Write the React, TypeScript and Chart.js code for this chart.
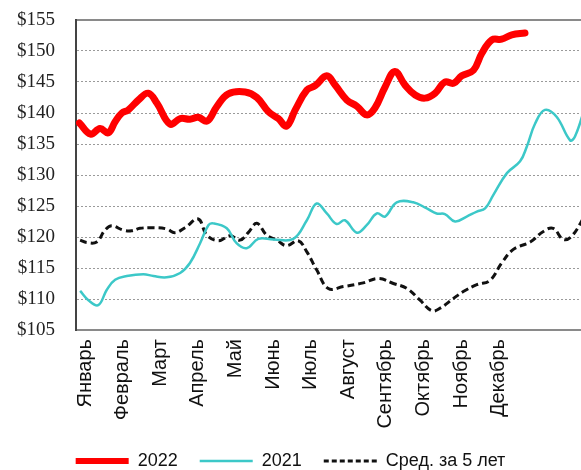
import React, { useEffect, useRef } from "react";
import { Chart, registerables } from "chart.js";

Chart.register(...registerables);

const months = ["Январь", "Февраль", "Март", "Апрель", "Май", "Июнь", "Июль", "Август", "Сентябрь", "Октябрь", "Ноябрь", "Декабрь"];
const yTicks = [105, 110, 115, 120, 125, 130, 135, 140, 145, 150, 155];

// x in month units (0 = Январь)
const x2022 = [-0.15, 0.15, 0.4, 0.62, 0.8, 0.98, 1.15, 1.42, 1.68, 1.91, 2.26, 2.53, 2.79, 3.01, 3.25, 3.5, 3.81, 4.26, 4.57, 4.88, 5.14, 5.36, 5.59, 5.9, 6.12, 6.43, 6.65, 6.96, 7.23, 7.49, 7.71, 7.98, 8.24, 8.51, 8.78, 9.04, 9.31, 9.57, 9.8, 10.02, 10.33, 10.55, 10.82, 11.08, 11.35, 11.7];
const y2022 = [138.4, 136.6, 137.5, 136.8, 138.6, 140.0, 140.5, 142.1, 143.2, 141.6, 138.2, 139.1, 139.0, 139.3, 138.7, 141.0, 143.1, 143.4, 142.5, 140.2, 139.1, 137.9, 140.5, 143.7, 144.4, 146.0, 144.5, 142.1, 141.1, 139.7, 140.8, 144.2, 146.7, 144.5, 142.9, 142.4, 143.2, 145.0, 144.8, 146.0, 146.9, 149.6, 151.8, 151.9, 152.6, 152.9];

const x2021 = [-0.13, 0.09, 0.35, 0.58, 0.8, 1.11, 1.55, 1.82, 2.17, 2.53, 2.79, 3.06, 3.28, 3.41, 3.77, 4.03, 4.3, 4.61, 5.01, 5.54, 5.9, 6.16, 6.43, 6.69, 6.91, 7.23, 7.49, 7.76, 7.98, 8.29, 8.73, 9.09, 9.35, 9.57, 9.84, 10.15, 10.42, 10.64, 10.86, 11.22, 11.57, 11.75, 11.97, 12.23, 12.54, 12.9, 13.03, 13.3];
const y2021 = [111.3, 109.8, 109.0, 111.5, 113.1, 113.7, 114.0, 113.7, 113.5, 114.2, 115.8, 119.0, 121.9, 122.2, 121.4, 119.0, 118.2, 119.7, 119.6, 119.7, 122.7, 125.4, 123.8, 122.1, 122.7, 120.7, 121.9, 123.8, 123.3, 125.6, 125.6, 124.6, 123.8, 123.7, 122.5, 123.3, 124.1, 124.6, 126.8, 130.3, 132.2, 134.6, 138.3, 140.5, 139.4, 135.6, 136.2, 141.0];

const xAvg = [-0.13, 0.05, 0.31, 0.53, 0.71, 1.02, 1.24, 1.46, 1.82, 2.17, 2.39, 2.66, 3.01, 3.24, 3.55, 3.86, 4.12, 4.34, 4.57, 4.83, 5.1, 5.36, 5.67, 5.9, 6.16, 6.47, 6.87, 7.4, 7.8, 8.2, 8.56, 8.91, 9.22, 9.44, 9.8, 10.06, 10.42, 10.77, 11.08, 11.39, 11.84, 12.19, 12.45, 12.72, 12.94, 13.3];
const yAvg = [119.5, 119.1, 119.2, 121.1, 121.8, 121.1, 121.0, 121.4, 121.5, 121.3, 120.7, 121.5, 122.9, 120.3, 119.4, 120.2, 119.5, 120.7, 122.2, 120.3, 119.5, 118.6, 119.4, 117.6, 114.7, 111.7, 112.0, 112.6, 113.3, 112.5, 111.7, 109.8, 108.1, 108.5, 110.1, 111.2, 112.3, 113.0, 115.8, 118.0, 119.2, 120.9, 121.4, 119.6, 120.1, 123.5];

const seriesNames = ["2022", "2021", "Сред. за 5 лет"];

const toPts = (xs: number[], ys: number[]) => xs.map((x, i) => ({ x, y: ys[i] }));

export default function App() {
  const ref = useRef<HTMLCanvasElement | null>(null);
  useEffect(() => {
    if (!ref.current) return;
    const chart = new Chart(ref.current, {
      type: "line",
      data: {
        datasets: [
          {
            label: seriesNames[0],
            data: toPts(x2022, y2022),
            borderColor: "#FF0000",
            backgroundColor: "#FF0000",
            borderWidth: 7,
            pointRadius: 0,
            tension: 0.4,
            borderCapStyle: "round",
            borderJoinStyle: "round",
          },
          {
            label: seriesNames[1],
            data: toPts(x2021, y2021),
            borderColor: "#3CC8C8",
            backgroundColor: "#3CC8C8",
            borderWidth: 2.5,
            pointRadius: 0,
            tension: 0.4,
          },
          {
            label: seriesNames[2],
            data: toPts(xAvg, yAvg),
            borderColor: "#111111",
            backgroundColor: "#111111",
            borderWidth: 3,
            borderDash: [7, 4],
            pointRadius: 0,
            tension: 0.4,
          },
        ],
      },
      options: {
        animation: false,
        responsive: false,
        maintainAspectRatio: false,
        layout: { padding: { top: 20, left: 0, right: 0, bottom: 0 } },
        plugins: {
          tooltip: { enabled: false },
          legend: {
            position: "bottom",
            labels: {
              usePointStyle: true,
              pointStyle: "line",
              pointStyleWidth: 53,
              padding: 22,
              color: "#111",
              font: { family: "'Liberation Sans', Arial, sans-serif", size: 18 },
              generateLabels: (ch: any) =>
                ch.data.datasets.map((ds: any, i: number) => ({
                  text: ds.label,
                  fillStyle: ds.borderColor,
                  strokeStyle: ds.borderColor,
                  lineWidth: i === 0 ? 6 : i === 1 ? 2.5 : 3,
                  lineDash: i === 2 ? [5, 3] : [],
                  pointStyle: "line",
                  hidden: false,
                  datasetIndex: i,
                  fontColor: "#111",
                })),
            },
          },
        },
        scales: {
          x: {
            type: "linear",
            min: -0.24,
            max: 13.19,
            afterBuildTicks: (scale: any) => {
              scale.ticks = months.map((_, i) => ({ value: i }));
            },
            afterFit: (scale: any) => {
              scale.height = 100;
            },
            grid: { display: false, drawTicks: false },
            border: { display: true, color: "#8a8a8a", width: 2 },
            ticks: {
              autoSkip: false,
              minRotation: 90,
              maxRotation: 90,
              padding: 9,
              color: "#111",
              font: { family: "'Liberation Sans', Arial, sans-serif", size: 20 },
              callback: (v: any) => months[Math.round(Number(v))] ?? "",
            },
          },
          y: {
            type: "linear",
            min: 105,
            max: 155,
            afterBuildTicks: (scale: any) => {
              scale.ticks = yTicks.map((v) => ({ value: v }));
            },
            afterFit: (scale: any) => {
              scale.width = 76;
              scale.paddingTop = 10;
              scale.paddingBottom = 10;
            },
            grid: {
              drawTicks: false,
              lineWidth: (c: any) => (c.tick && c.tick.value === 155 ? 2 : 1),
              color: (c: any) =>
                c.tick && c.tick.value === 105
                  ? "rgba(0,0,0,0)"
                  : c.tick && c.tick.value === 155
                  ? "#8a8a8a"
                  : "#9a9a9a",
            },
            border: {
              display: true,
              color: "#444",
              width: 2,
              dash: (c: any) => (c.tick && c.tick.value === 155 ? [] : [2, 2]),
            },
            ticks: {
              padding: 21,
              color: "#222",
              font: { family: "'Liberation Serif', 'Times New Roman', serif", size: 19 },
              callback: (v: any) => "$" + v,
            },
          },
        },
      },
    });
    return () => chart.destroy();
  }, []);

  return (
    <div style={{ position: "absolute", left: 0, top: 0, width: 581, height: 470, overflow: "hidden", background: "#fff" }}>
      <canvas ref={ref} width={581} height={480} style={{ display: "block" }} />
    </div>
  );
}
